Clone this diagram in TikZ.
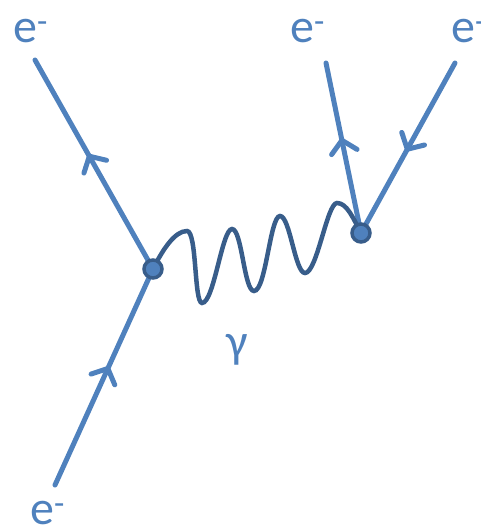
\documentclass[tikz,border=0pt]{standalone}
\usepackage{fontspec}
\setmainfont{Carlito}
\usetikzlibrary{arrows.meta,decorations.markings}
\definecolor{eblue}{HTML}{4F81BD}
\definecolor{wblue}{HTML}{385D8A}
\tikzset{
  fermion/.style={draw=eblue, line width=5pt, line cap=round, postaction={decorate},
    decoration={markings, mark=at position #1 with {\arrow{Straight Barb[length=12pt,width=26pt,line width=5pt,round]}}}},
  vtx/.style={circle, fill=eblue, draw=wblue, line width=3.5pt, minimum size=18pt, inner sep=0pt},
  lbl/.style={text=eblue, font=\fontsize{48}{48}\selectfont, inner sep=0pt},
  photon/.style={draw=wblue, line width=4.5pt, line cap=round}
}
\begin{document}
\begin{tikzpicture}[x=1pt,y=-1pt]
\useasboundingbox (0,0) rectangle (481,525);
\coordinate (L) at (153,269);
\coordinate (R) at (361,233);
\coordinate (a) at (55,485);
\coordinate (b) at (35,60);
\coordinate (c) at (326,63);
\coordinate (d) at (455,63);
\draw[fermion=0.55] (a) -- (L);
\draw[fermion=0.55] (L) -- (b);
\draw[fermion=0.56] (R) -- (c);
\draw[fermion=0.52] (d) -- (R);
\draw[photon] (L) .. controls +(10,-20) and +(-12,0) .. (187,231)
  .. controls +(10,0) and +(-8,0) .. (202,303)
  .. controls +(12,0) and +(-10,0) .. (232,229)
  .. controls +(10,0) and +(-10,0) .. (254,291)
  .. controls +(12,0) and +(-10,0) .. (280,216)
  .. controls +(10,0) and +(-10,0) .. (305,273)
  .. controls +(12,0) and +(-10,0) .. (337,203)
  .. controls +(10,0) and +(-8,-15) .. (R);
\node[vtx] (vL) at (L) {};
\node[vtx] (vR) at (R) {};
\node[lbl, anchor=base west] (e1) at (13,42) {e\textsuperscript{-}};
\node[lbl, anchor=base west] (e2) at (290,42) {e\textsuperscript{-}};
\node[lbl, anchor=base west] (e3) at (451,42) {e\textsuperscript{-}};
\node[lbl, anchor=base west] (e4) at (30,524) {e\textsuperscript{-}};
\node[lbl, anchor=base] (g) at (237,357) {γ};
\end{tikzpicture}
\end{document}
